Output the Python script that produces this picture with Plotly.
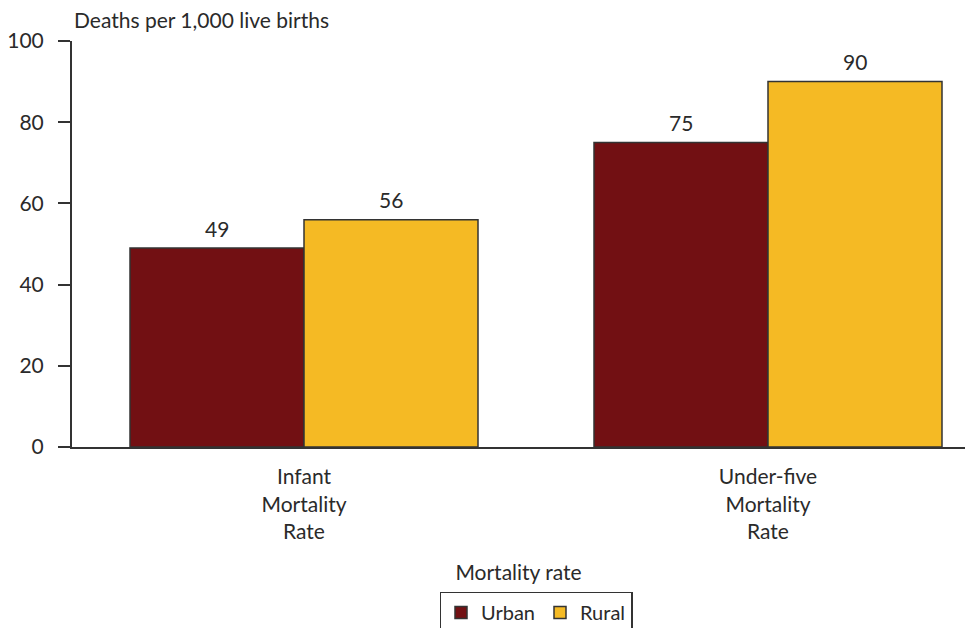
import plotly.graph_objects as go

categories = ["Infant<br>Mortality<br>Rate", "Under-five<br>Mortality<br>Rate"]
urban = [49, 75]
rural = [56, 90]
series_names = ["Urban", "Rural"]
y_ticks = [0, 20, 40, 60, 80, 100]

URBAN_COLOR = "#721013"
RURAL_COLOR = "#F5BA24"
EDGE = "#333333"
FONT = dict(family="Lato", size=21, color="#2a2a2a")
LEGEND_FONT = dict(family="Lato", size=20, color="#2a2a2a")

W, H = 965, 628
LEFT, TOP, BOTTOM = 72, 41, 181
BARGAP = 0.25
# full category band is 464 px; the figure clips the right part of the last band
band_px = 464
plot_w = W - LEFT
x_max = -0.5 + plot_w / band_px

fig = go.Figure()
for name, vals, col in [(series_names[0], urban, URBAN_COLOR), (series_names[1], rural, RURAL_COLOR)]:
    fig.add_trace(go.Bar(
        name=name, x=categories, y=vals,
        marker=dict(color=col, line=dict(color=EDGE, width=1.5)),
    ))

# value labels above each bar
half = (1 - BARGAP) / 4
for i, cat in enumerate(categories):
    for vals, off in [(urban, -half), (rural, half)]:
        fig.add_annotation(
            x=i + off, y=vals[i], xref="x", yref="y",
            text=str(vals[i]), showarrow=False, yshift=20,
            font=FONT,
        )

fig.add_annotation(
    x=0, y=1, xref="paper", yref="paper", xanchor="left", yanchor="bottom",
    text="Deaths per 1,000 live births", showarrow=False, yshift=7,
    font=FONT,
)

center_paper = ((LEFT + band_px) - LEFT) / plot_w

fig.update_layout(
    width=W, height=H,
    margin=dict(l=LEFT, r=0, t=TOP, b=BOTTOM, autoexpand=False),
    paper_bgcolor="white", plot_bgcolor="white",
    barmode="group", bargap=BARGAP, bargroupgap=0,
    font=FONT,
    showlegend=True,
    legend=dict(
        orientation="h", x=center_paper, xanchor="center",
        y=-0.356, yanchor="top",
        bordercolor="#333333", borderwidth=1.5,
        font=LEGEND_FONT, itemwidth=30, tracegroupgap=0,
    ),
    xaxis=dict(
        type="category", range=[-0.5, x_max],
        showline=True, linecolor=EDGE, linewidth=2,
        ticks="", showgrid=False, zeroline=False,
        tickfont=FONT, ticklabelstandoff=10,
        title=dict(text="Mortality rate", font=FONT, standoff=24),
    ),
    yaxis=dict(
        range=[0, 100], tickvals=y_ticks,
        showline=True, linecolor=EDGE, linewidth=2,
        ticks="outside", ticklen=12, tickwidth=2, tickcolor=EDGE,
        ticklabelstandoff=10,
        showgrid=False, zeroline=False, tickfont=FONT,
    ),
)

fig.write_html("out.html")
